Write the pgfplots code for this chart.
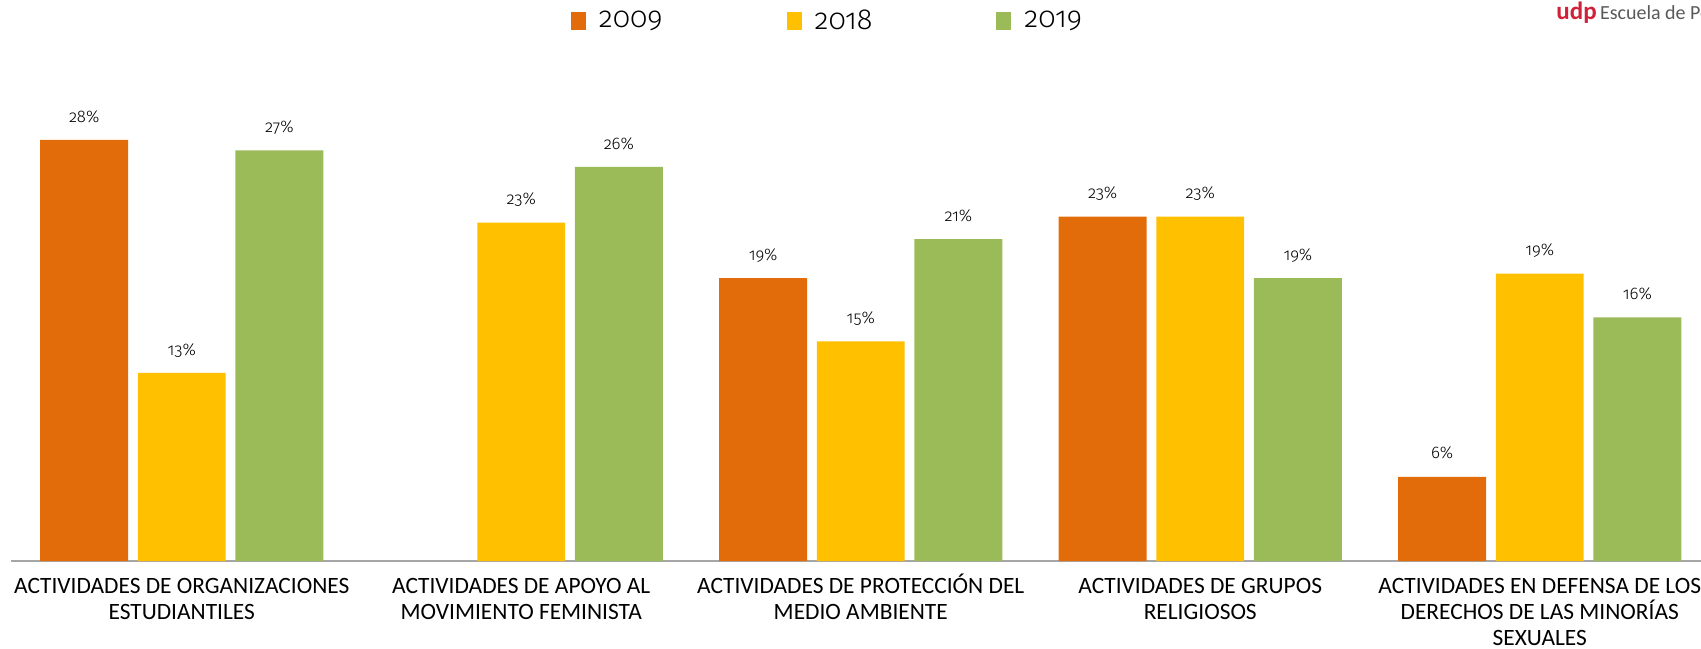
\documentclass[border=0pt]{standalone}
\usepackage{pgfplots}
\pgfplotsset{compat=1.18}
\usepackage{pgfplotstable}
\usepackage{fontspec}
\setmainfont{Carlito}
\newfontfamily\onumfont{Fira Sans Light}[Numbers=OldStyle]
\definecolor{cA}{HTML}{E36C0A}
\definecolor{cB}{HTML}{FFC000}
\definecolor{cC}{HTML}{9BBB59}
\definecolor{udpred}{HTML}{D0213A}
\definecolor{udpgray}{HTML}{595959}
\definecolor{axisgray}{HTML}{A6A6A6}
\pgfplotstableread{
x y lab
0 28.0 28
2 18.8 19
3 22.9 23
4 5.6 6
}\dataA
\pgfplotstableread{
x y lab
0 12.5 13
1 22.5 23
2 14.6 15
3 22.9 23
4 19.1 19
}\dataB
\pgfplotstableread{
x y lab
0 27.3 27
1 26.2 26
2 21.4 21
3 18.8 19
4 16.2 16
}\dataC
\newcommand{\Strt}{\rule{0pt}{10pt}}
\begin{document}
\begin{tikzpicture}
\useasboundingbox (0,-43.5pt) rectangle (850.5pt,280.5pt);
\clip (0,-43.5pt) rectangle (850.5pt,280.5pt);
\begin{axis}[
  at={(5.5pt,0pt)}, anchor=south west,
  width=845pt, height=280.5pt, scale only axis,
  xmin=-0.503, xmax=4.475, ymin=0, ymax=37.3,
  enlargelimits=false,
  axis x line=bottom, axis y line=none,
  x axis line style={-, draw=axisgray, line width=1pt},
  ybar, bar width=43.95pt,
  xtick={0,1,2,3,4},
  major tick length=0pt,
  xticklabels={
    {\Strt ACTIVIDADES DE ORGANIZACIONES\\ESTUDIANTILES},
    {\Strt ACTIVIDADES DE APOYO AL\\MOVIMIENTO FEMINISTA},
    {\Strt ACTIVIDADES DE PROTECCIÓN DEL\\MEDIO AMBIENTE},
    {\Strt ACTIVIDADES DE GRUPOS\\RELIGIOSOS},
    {\Strt ACTIVIDADES EN DEFENSA DE LOS\\DERECHOS DE LAS MINORÍAS\\SEXUALES}},
  xticklabel style={font=\fontsize{11.7}{12.8}\selectfont, align=center, anchor=north, inner sep=0pt, yshift=-6.2pt},
  point meta=explicit symbolic,
  nodes near coords={\pgfplotspointmeta\%},
  every node near coord/.append style={font=\onumfont\fontsize{8.4}{10}\selectfont, anchor=base, yshift=8.9pt, inner sep=0pt},
  legend columns=3,
  legend style={draw=none, fill=none, inner sep=0pt, at={(0.331,0.9626)}, anchor=west,
    font=\onumfont\fontsize{14.5}{16}\selectfont,
    /tikz/every odd column/.append style={column sep=4.5pt},
    /tikz/every even column/.append style={column sep=60pt}},
  legend image code/.code={\fill[#1] (0pt,-4.5pt) rectangle (7.5pt,4.5pt);},
  clip=false,
]
\addplot[fill=cA, draw=none, bar shift=-48.8pt] table[x=x, y=y, meta=lab] {\dataA};
\addplot[fill=cB, draw=none, bar shift=0pt] table[x=x, y=y, meta=lab] {\dataB};
\addplot[fill=cC, draw=none, bar shift=48.8pt] table[x=x, y=y, meta=lab] {\dataC};
\legend{2009,2018,2019}
\end{axis}
\node[anchor=base west, inner sep=0pt] at (778pt,270.5pt) {\textcolor{udpred}{\fontsize{12.5}{13}\selectfont\bfseries udp}\,\textcolor{udpgray}{\fontsize{10}{12}\selectfont Escuela de Periodismo}};
\end{tikzpicture}
\end{document}
